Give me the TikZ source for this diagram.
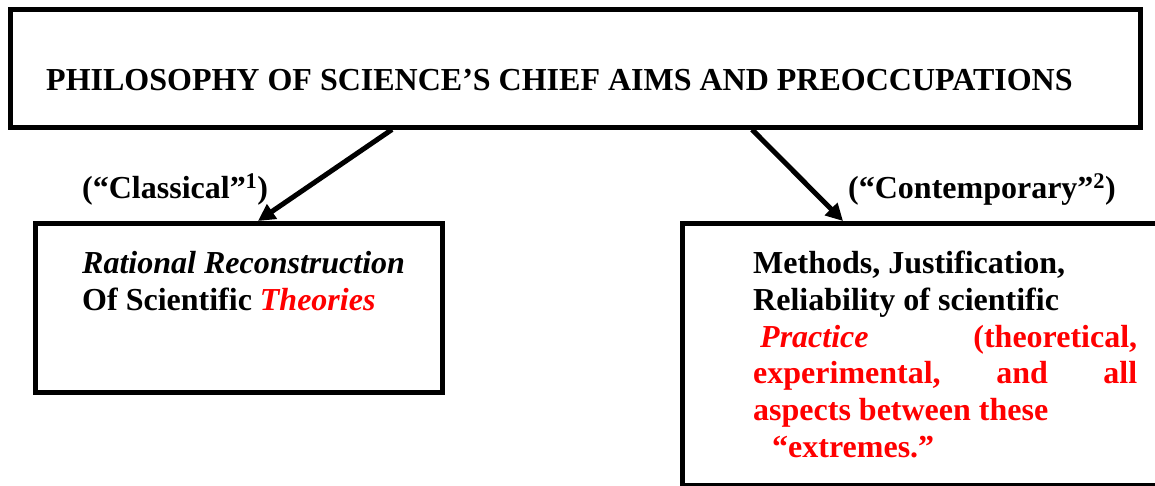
\documentclass[tikz,border=0pt]{standalone}
\usepackage{fontspec}
\setmainfont{Liberation Serif}
\usetikzlibrary{arrows.meta}
\begin{document}
\begin{tikzpicture}[x=1pt,y=-1pt,
  box/.style={draw,line width=4.5pt,inner sep=0pt,anchor=north west},
  txt/.style={inner sep=0pt,anchor=base west,font=\fontsize{32}{37}\selectfont\bfseries},
  conn/.style={line width=5pt,-{Triangle[length=17pt,width=17pt]}}]
\useasboundingbox (0,0) rectangle (1155,485);
\node[box,minimum width=1130pt,minimum height=118pt] (top) at (8,7) {};
\node[box,minimum width=407pt,minimum height=169pt] (left) at (33,221) {};
\node[box,minimum width=490pt,minimum height=262pt] (right) at (680,221) {};
\node[txt] (title) at (46,90) {PHILOSOPHY OF SCIENCE’S CHIEF AIMS AND PREOCCUPATIONS};
\node[txt] (lab1) at (82,198) {(“Classical”\textsuperscript{1})};
\node[txt] (lab2) at (848,198) {(“Contemporary”\textsuperscript{2})};
\node[txt] (l1) at (82,273) {\itshape Rational Reconstruction};
\node[txt] (l2) at (82,310) {Of Scientific \textcolor{red}{\itshape Theories}};
\node[txt] (r1) at (753,273) {Methods, Justification,};
\node[txt] (r2) at (753,310) {Reliability of scientific};
\node[txt,text=red] (r3) at (753,347) {\hbox to 384pt{\hspace{7pt}\textit{Practice}\hfill(theoretical,}};
\node[txt,text=red] (r4) at (753,383) {\hbox to 384pt{experimental,\hfill and\hfill all}};
\node[txt,text=red] (r5) at (753,420) {aspects between these};
\node[txt,text=red] (r6) at (772,457) {“extremes.”};
\draw[conn] ([xshift=384pt]top.south west) -- ([xshift=225pt]left.north west);
\draw[conn] ([xshift=744pt]top.south west) -- ([xshift=163pt]right.north west);
\end{tikzpicture}
\end{document}
